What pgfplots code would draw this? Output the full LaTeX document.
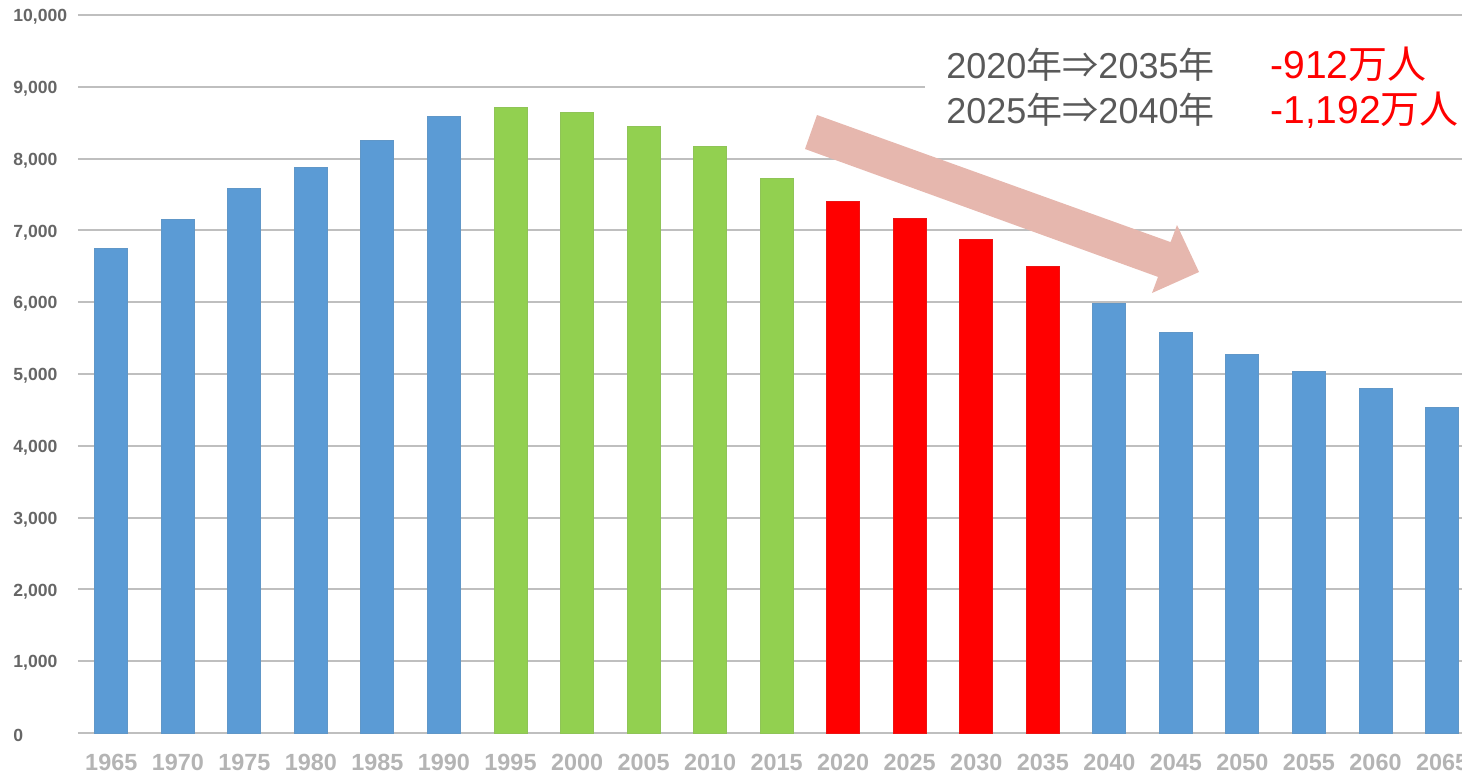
\documentclass[border=0pt]{standalone}
\usepackage{fontspec}
\setmainfont{Liberation Sans}
\newfontfamily\cjk{Noto Sans CJK JP}
\usepackage{pgfplots}
\pgfplotsset{compat=1.18}
\definecolor{barblue}{HTML}{5B9BD5}
\definecolor{bargreen}{HTML}{92D050}
\definecolor{barred}{HTML}{FF0000}
\definecolor{gridgray}{HTML}{BFBFBF}
\definecolor{ylab}{HTML}{666666}
\definecolor{xlab}{HTML}{B4B4B4}
\definecolor{txtgray}{HTML}{595959}
\definecolor{arrowpink}{HTML}{E6B7AE}
\begin{document}
\begin{tikzpicture}
\begin{axis}[
  at={(39pt,-366.5pt)}, anchor=south west,
  scale only axis, width=692pt, height=359pt,
  xmin=-0.5, xmax=20.3, ymin=0, ymax=10000,
  ytick={0,1000,...,10000},
  xtick={0,...,20},
  xticklabels={1965,1970,1975,1980,1985,1990,1995,2000,2005,2010,2015,2020,2025,2030,2035,2040,2045,2050,2055,2060,2065},
  ymajorgrids, grid style={gridgray, line width=1pt},
  axis line style={draw=none},
  major tick length=0pt,
  /pgf/number format/.cd, 1000 sep={,}, assume math mode=true, /pgfplots/.cd,
  scaled y ticks=false,
  yticklabel style={font=\fontsize{8.8}{10}\selectfont\bfseries, text=ylab, anchor=west, inner sep=0pt, xshift=-32.5pt, yshift=-1pt},
  xticklabel style={font=\fontsize{11.7}{13}\selectfont\bfseries, text=xlab, anchor=center, inner sep=0pt, yshift=-14.5pt},
  clip=false,
]
\addplot[ybar, bar width=16.5pt, bar shift=0pt, fill=barblue, draw=barblue!85!gray, line width=0.5pt] coordinates {
  (0,6744) (1,7157) (2,7581) (3,7883) (4,8251) (5,8590)
  (15,5978) (16,5584) (17,5275) (18,5028) (19,4793) (20,4529)};
\addplot[ybar, bar width=16.5pt, bar shift=0pt, fill=bargreen, draw=bargreen!85!gray, line width=0.5pt] coordinates {
  (6,8716) (7,8638) (8,8442) (9,8174) (10,7728)};
\addplot[ybar, bar width=16.5pt, bar shift=0pt, fill=barred, draw=barred!85!gray, line width=0.5pt] coordinates {
  (11,7406) (12,7170) (13,6875) (14,6494)};
\end{axis}
\begin{scope}[x=0.5pt,y=-0.5pt]
\fill[white] (925,40) rectangle (1462,135);
\fill[arrowpink] (817,115) -- (1170.6,242.1) -- (1177,225) -- (1199,272) -- (1152,293) -- (1158,276.9) -- (805,149) -- cycle;
\node[anchor=base west, text=txtgray, font=\fontsize{18}{21}\selectfont, inner sep=0pt] at (946,78) {2020{\cjk 年⇒}2035{\cjk 年}};
\node[anchor=base west, text=barred, font=\fontsize{19.5}{22}\selectfont, inner sep=0pt] at (1270,78) {-912{\cjk 万人}};
\node[anchor=base west, text=txtgray, font=\fontsize{18}{21}\selectfont, inner sep=0pt] at (946,123) {2025{\cjk 年⇒}2040{\cjk 年}};
\node[anchor=base west, text=barred, font=\fontsize{19.5}{22}\selectfont, inner sep=0pt] at (1270,123) {-1,192{\cjk 万人}};
\end{scope}
\pgfresetboundingbox
\useasboundingbox (0,0) rectangle (731pt,-386pt);
\end{tikzpicture}
\end{document}
